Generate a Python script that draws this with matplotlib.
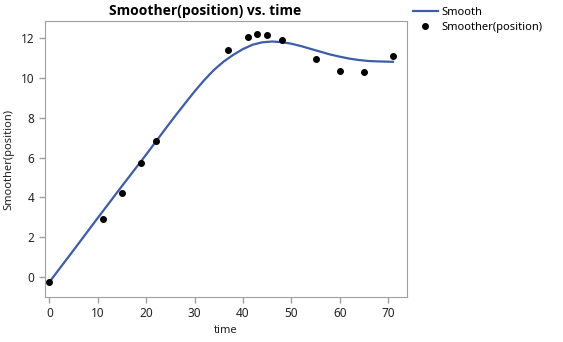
import matplotlib.pyplot as plt

# observed points
time = [0, 11, 15, 19, 22, 37, 41, 43, 45, 48, 55, 60, 65, 71]
position = [-0.24, 2.9, 4.22, 5.71, 6.83, 11.41, 12.07, 12.19, 12.16, 11.9,
            10.94, 10.36, 10.32, 11.11]

# smoother curve
smooth_t = [0, 5, 10, 15, 20, 22, 24, 26, 28, 30, 32, 34, 36, 38, 40, 42, 44,
            46, 48, 50, 52, 54, 56, 58, 60, 62, 64, 66, 68, 71]
smooth_y = [-0.25, 1.35, 2.97, 4.57, 6.15, 6.8, 7.45, 8.09, 8.71, 9.32, 9.89,
            10.4, 10.82, 11.16, 11.45, 11.67, 11.79, 11.83, 11.8, 11.72, 11.6,
            11.46, 11.32, 11.18, 11.07, 10.97, 10.9, 10.85, 10.83, 10.81]

xticks = [0, 10, 20, 30, 40, 50, 60, 70]
yticks = [0, 2, 4, 6, 8, 10, 12]

plt.rcParams['font.family'] = ['Noto Sans', 'DejaVu Sans']

fig = plt.figure(figsize=(5.63, 3.42), dpi=100)
ax = fig.add_axes([45/563, 45/342, 362/563, 276/342])

line, = ax.plot(smooth_t, smooth_y, '-', color='#3d5ca9', lw=1.6, label='Smooth')
pts, = ax.plot(time, position, 'o', color='black', ms=4, label='Smoother(position)')

ax.set_xlim(-0.9, 73.9)
ax.set_ylim(-1.0, 12.86)
ax.set_xticks(xticks)
ax.set_yticks(yticks)
for s in ax.spines.values():
    s.set_color('#a0a0a0')
ax.tick_params(colors='#a0a0a0', labelcolor='#222222', labelsize=8.5, length=4, width=1)

ax.set_xlabel('time', fontsize=8, color='#222222', labelpad=3)
ax.set_ylabel('Smoother(position)', fontsize=8, color='#222222', labelpad=5)

fig.text(205/563, 1 - 11/342, 'Smoother(position) vs. time', ha='center', va='center',
         fontsize=10, fontweight='bold', family=['Open Sans', 'DejaVu Sans'])

fig.legend(handles=[line, pts], loc='upper left', bbox_to_anchor=(411/563, 1 - 5/342),
           frameon=False, fontsize=8, handlelength=2.2, handletextpad=0.3,
           labelspacing=0.3, borderpad=0.2, borderaxespad=0)

fig.savefig('out.png', dpi=100)
